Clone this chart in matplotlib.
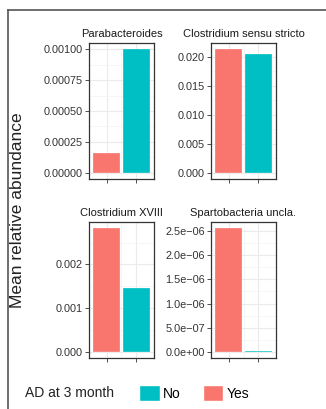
import matplotlib
matplotlib.use("Agg")
import matplotlib.pyplot as plt
import matplotlib.patches as patches
from matplotlib.lines import Line2D
from matplotlib.ticker import FixedLocator, FuncFormatter

plt.rcParams['font.family'] = ['Liberation Sans', 'DejaVu Sans']

# mean relative abundance per genus, AD at 3 month = Yes / No
genera = ["Parabacteroides", "Clostridium sensu stricto",
          "Clostridium XVIII", "Spartobacteria uncla."]
groups = ["Yes", "No"]
yes_values = [0.00016, 0.02135, 0.00283, 2.56e-06]
no_values = [0.00100, 0.02050, 0.00146, 2e-08]
tick_sets = [
    [0, 0.00025, 0.0005, 0.00075, 0.001],
    [0, 0.005, 0.010, 0.015, 0.020],
    [0, 0.001, 0.002],
    [0, 5e-07, 1e-06, 1.5e-06, 2e-06, 2.5e-06],
]
tick_formats = ["{:.5f}", "{:.3f}", "{:.3f}", "sci"]

colors = {"Yes": "#F8766D", "No": "#00BFC4"}

W, H = 326, 409
fig = plt.figure(figsize=(W / 100, H / 100), dpi=100)

# panel boxes in pixels: left, top, right, bottom
cols = [(89, 154), (211, 276)]
rows = [(43, 179), (222, 358)]


def fmt_for(kind):
    if kind == "sci":
        return FuncFormatter(lambda v, p: "{:.1e}".format(v).replace("-", "\u2212"))
    return FuncFormatter(lambda v, p, k=kind: k.format(v))


for i, name in enumerate(genera):
    x0, x1 = cols[i % 2]
    y0, y1 = rows[i // 2]
    ax = fig.add_axes([x0 / W, 1 - y1 / H, (x1 - x0) / W, (y1 - y0) / H])
    vals = [yes_values[i], no_values[i]]
    top = max(vals)
    ax.bar([1, 2], vals, width=0.9, color=[colors[g] for g in groups],
           edgecolor=(1, 1, 1, 0.7), linewidth=0.3, zorder=3)
    ax.set_xlim(0.4, 2.6)
    ax.set_ylim(-0.05 * top, 1.05 * top)

    ticks = tick_sets[i]
    step = ticks[1] - ticks[0]
    ax.yaxis.set_major_locator(FixedLocator(ticks))
    ax.yaxis.set_minor_locator(FixedLocator([t + step / 2 for t in ticks]))
    ax.yaxis.set_major_formatter(fmt_for(tick_formats[i]))
    ax.set_xticks([1, 2])
    ax.set_xticks([1.5], minor=True)
    ax.set_xticklabels([])

    ax.grid(True, which="major", color="#EBEBEB", linewidth=0.8, zorder=0)
    ax.grid(True, which="minor", color="#F3F3F3", linewidth=0.5, zorder=0)
    ax.set_axisbelow(True)
    ax.tick_params(axis="both", which="major", length=3, width=0.6,
                   color="#333333", labelsize=7.8, labelcolor="#333333", pad=1.5)
    ax.tick_params(axis="both", which="minor", length=0)
    for s in ax.spines.values():
        s.set_color("#333333")
        s.set_linewidth(0.9)
    ax.set_title(name, fontsize=8, color="#1A1A1A", pad=4)

fig.text(18 / W, 1 - 210 / H, "Mean relative abundance", rotation=90,
         ha="center", va="center", fontsize=12.5, color="#222222")

# legend
fig.text(25 / W, 1 - 393 / H, "AD at 3 month", ha="left", va="center",
         fontsize=10, color="#222222")
handles = [patches.Patch(facecolor=colors["No"], edgecolor="white", label="No"),
           patches.Patch(facecolor=colors["Yes"], edgecolor="white", label="Yes")]
fig.legend(handles=handles, ncol=2, loc="center left",
           bbox_to_anchor=(139 / W, 1 - 393 / H), frameon=False, fontsize=10,
           handlelength=1.5, handleheight=1.5, handletextpad=0.2,
           columnspacing=1.6, borderpad=0, borderaxespad=0)

# page frame
fig.add_artist(Line2D([7.5 / W, 7.5 / W], [0, 1 - 10 / H], color="#555555",
                      linewidth=1.2, transform=fig.transFigure))
fig.add_artist(Line2D([7.5 / W, 1], [1 - 10 / H, 1 - 10 / H], color="#555555",
                      linewidth=1.2, transform=fig.transFigure))

fig.savefig("out.png", dpi=100, facecolor="white")
